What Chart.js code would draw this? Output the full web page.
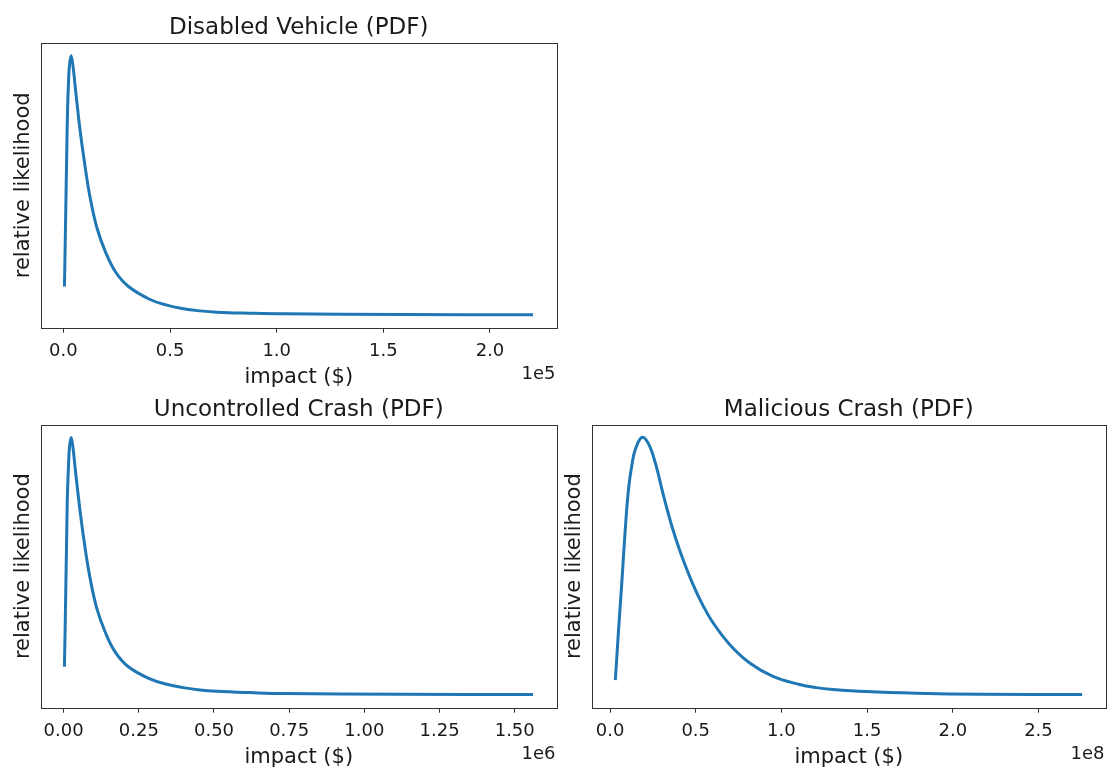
<!DOCTYPE html>
<html>
<head>
<meta charset="utf-8">
<script src="https://cdn.jsdelivr.net/npm/chart.js@4/dist/chart.umd.min.js"></script>
<style>
    html, body { margin: 0; padding: 0; background: #fff; overflow: hidden; }
    body { width: 1107px; height: 768px; position: relative; }
    canvas { position: absolute; }
    #disabledChart { left: 0; top: 0; }
    #uncontrolledChart { left: 0; top: 390px; }
    #maliciousChart { left: 550px; top: 390px; }
</style>
</head>
<body>
<canvas id="disabledChart" width="580" height="390"></canvas>
<canvas id="uncontrolledChart" width="580" height="380"></canvas>
<canvas id="maliciousChart" width="557" height="380"></canvas>
<script>
// PDF curves (peak scaled to 1)

const disabledImpact = [470, 800, 1600, 1900, 2300, 2800, 3600, 4500, 5500, 7800, 10200, 12500, 15700, 19600, 24300, 30500, 40600, 48500, 56300, 64100, 71900, 87500, 103100, 157800, 220200];
const disabledLikelihood = [0.109, 0.258, 0.648, 0.778, 0.882, 0.960, 1.0, 0.960, 0.882, 0.713, 0.570, 0.453, 0.336, 0.245, 0.167, 0.109, 0.059, 0.037, 0.023, 0.015, 0.010, 0.006, 0.0035, 0.001, 0.0];

const uncontrolledImpact = [2660, 5000, 10600, 12600, 15900, 19300, 24900, 31200, 38200, 54800, 71400, 88000, 110300, 137900, 171100, 215300, 287000, 343000, 398000, 453000, 509000, 620000, 730000, 1118000, 1561000];
const uncontrolledLikelihood = [0.109, 0.258, 0.648, 0.778, 0.882, 0.960, 1.0, 0.960, 0.882, 0.713, 0.570, 0.453, 0.336, 0.245, 0.167, 0.109, 0.062, 0.041, 0.028, 0.019, 0.014, 0.0086, 0.0047, 0.002, 0.001];

const maliciousImpact = [3100000, 5000000, 7000000, 8900000, 10800000, 12800000, 14700000, 18600000, 22400000, 26300000, 31200000, 36000000, 40900000, 46700000, 52500000, 60200000, 69900000, 81500000, 95100000, 110600000, 120300000, 130000000, 149400000, 178500000, 217200000, 275500000];
const maliciousLikelihood = [0.057, 0.254, 0.449, 0.644, 0.80, 0.895, 0.952, 1.0, 0.976, 0.904, 0.774, 0.657, 0.557, 0.456, 0.370, 0.279, 0.195, 0.124, 0.072, 0.040, 0.028, 0.021, 0.0125, 0.006, 0.002, 0.001];

const disabledTicks = [0, 50000, 100000, 150000, 200000];
const uncontrolledTicks = [0, 250000, 500000, 750000, 1000000, 1250000, 1500000];
const maliciousTicks = [0, 50000000, 100000000, 150000000, 200000000, 250000000];

const FONT = 'DejaVu Sans';
const TEXT = '#1a1a1a';
const LINE = '#1f77b4';

Chart.defaults.font.family = FONT;
Chart.defaults.color = TEXT;

// matplotlib-style frame round the plot area
const framePlugin = {
    id: 'frame',
    afterDatasetsDraw(chart) {
        const { ctx, chartArea: a } = chart;
        ctx.save();
        ctx.strokeStyle = '#333';
        ctx.lineWidth = 1;
        ctx.strokeRect(Math.round(a.left) + 0.5, Math.round(a.top) + 0.5,
            Math.round(a.right - a.left), Math.round(a.bottom - a.top));
        ctx.restore();
    }
};

// the "1e5" style offset text under the right end of the x axis
const offsetPlugin = {
    id: 'offsetText',
    afterDraw(chart, args, opts) {
        const { ctx, chartArea: a } = chart;
        ctx.save();
        ctx.font = `18px "${FONT}"`;
        ctx.fillStyle = TEXT;
        ctx.textAlign = 'right';
        ctx.textBaseline = 'middle';
        ctx.fillText(opts.text, a.right - 1, a.bottom + 47);
        ctx.restore();
    }
};

function makePanel(id, title, impact, likelihood, ticks, exponent, decimals, opts) {
    // 5% margins like matplotlib autoscale
    const lo = Math.min(...impact), hi = Math.max(...impact);
    const pad = (hi - lo) * 0.05;
    const scaleBy = Math.pow(10, exponent);

    new Chart(document.getElementById(id), {
        type: 'line',
        data: {
            datasets: [{
                data: impact.map((x, i) => ({ x: x, y: likelihood[i] })),
                borderColor: LINE,
                borderWidth: 3,
                pointRadius: 0,
                fill: false,
                tension: 0.4
            }]
        },
        options: {
            responsive: false,
            animation: false,
            devicePixelRatio: 1,
            layout: { padding: { left: 0, right: opts.padRight, top: 0, bottom: 0 } },
            plugins: {
                legend: { display: false },
                tooltip: { enabled: false },
                title: {
                    display: true,
                    text: title,
                    fullSize: false,
                    color: TEXT,
                    font: { size: 23, weight: 'normal' },
                    padding: { top: opts.titleTop, bottom: 0.8 }
                },
                offsetText: { text: '1e' + exponent }
            },
            scales: {
                x: {
                    type: 'linear',
                    min: lo - pad,
                    max: hi + pad,
                    afterBuildTicks: s => { s.ticks = ticks.map(v => ({ value: v })); },
                    afterFit: s => { s.height = 62.3; },
                    ticks: {
                        font: { size: 18 },
                        color: TEXT,
                        padding: 8,
                        maxRotation: 0,
                        callback: v => (v / scaleBy).toFixed(decimals)
                    },
                    grid: {
                        display: true,
                        drawOnChartArea: false,
                        drawTicks: true,
                        tickLength: 5,
                        tickColor: '#333',
                        lineWidth: 1
                    },
                    border: { display: false },
                    title: {
                        display: true,
                        text: 'impact ($)',
                        color: TEXT,
                        font: { size: 21 },
                        padding: 0
                    }
                },
                y: {
                    min: -0.05,
                    max: 1.05,
                    afterFit: s => { s.width = opts.yWidth; },
                    ticks: { display: false },
                    grid: { display: false },
                    border: { display: false },
                    title: {
                        display: true,
                        text: 'relative likelihood',
                        color: TEXT,
                        font: { size: 21 },
                        padding: { top: opts.yTitlePad, bottom: 0 }
                    }
                }
            }
        },
        plugins: [framePlugin, offsetPlugin]
    });
}

makePanel('disabledChart', 'Disabled Vehicle (PDF)', disabledImpact, disabledLikelihood,
    disabledTicks, 5, 1, { padRight: 23.5, titleTop: 14.5, yWidth: 41, yTitlePad: 10.9 });

makePanel('uncontrolledChart', 'Uncontrolled Crash (PDF)', uncontrolledImpact, uncontrolledLikelihood,
    uncontrolledTicks, 6, 2, { padRight: 23.5, titleTop: 6.2, yWidth: 41, yTitlePad: 10.9 });

makePanel('maliciousChart', 'Malicious Crash (PDF)', maliciousImpact, maliciousLikelihood,
    maliciousTicks, 8, 1, { padRight: 1.5, titleTop: 6.2, yWidth: 42, yTitlePad: 11.9 });
</script>
</body>
</html>
